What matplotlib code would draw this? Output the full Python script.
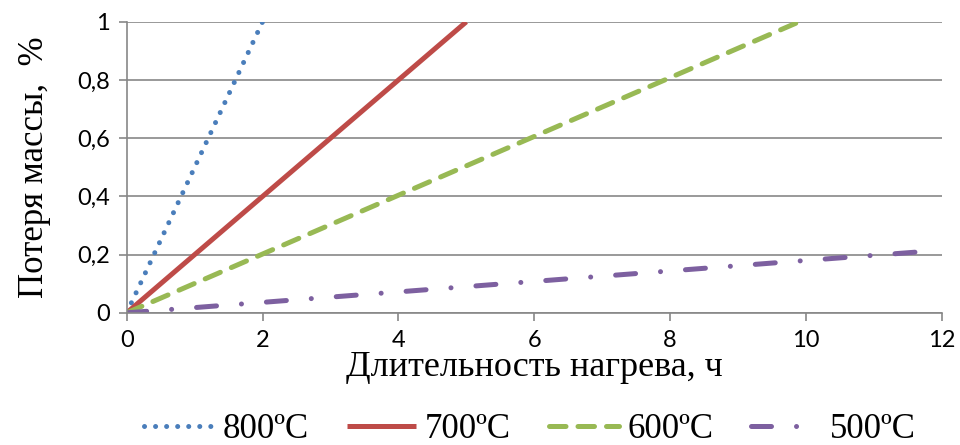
import matplotlib.pyplot as plt
from matplotlib.ticker import FuncFormatter

# Потеря массы (%) от длительности нагрева (ч)
x800 = [0, 2.0]
y800 = [0, 1.0]
x700 = [0, 5.0]
y700 = [0, 1.0]
x600 = [0, 9.9]
y600 = [0, 1.0]
x500 = [0, 2, 4, 6, 8, 10, 11.7]
y500 = [0, 0.036, 0.072, 0.108, 0.144, 0.18, 0.21]

labels = ['800ºC', '700ºC', '600ºC', '500ºC']
colors = ['#4A7EBB', '#BE4B48', '#98B954', '#7D60A0']

serif = ['Liberation Serif', 'DejaVu Serif']

fig = plt.figure(figsize=(9.6, 4.45), dpi=100)
ax = fig.add_axes([0.132, 0.297, 0.849, 0.654])

lw = 3.6
ax.plot(x800, y800, color=colors[0], lw=lw, dashes=(0.01, 2.2),
        dash_capstyle='round', label=labels[0])
ax.plot(x700, y700, color=colors[1], lw=lw, solid_capstyle='butt', label=labels[1])
ax.plot(x600, y600, color=colors[2], lw=lw, dashes=(3.3, 2.4),
        dash_capstyle='round', label=labels[2])
ax.plot(x500, y500, color=colors[3], lw=lw, dashes=(4.0, 5.0, 0.01, 5.0),
        dash_capstyle='round', label=labels[3])

ax.set_xlim(0, 12)
ax.set_ylim(0, 1)
ax.set_xticks(range(0, 13, 2))
ax.set_yticks([0, 0.2, 0.4, 0.6, 0.8, 1.0])
ax.yaxis.set_major_formatter(FuncFormatter(lambda v, p: ('%g' % round(v, 1)).replace('.', ',')))

ax.grid(axis='y', color='#878787', lw=1.2)
ax.set_axisbelow(True)
for s in ['top', 'right']:
    ax.spines[s].set_visible(False)
for s in ['left', 'bottom']:
    ax.spines[s].set_color('#878787')
    ax.spines[s].set_linewidth(1.2)
ax.tick_params(colors='#878787', width=1.2, length=6, labelcolor='black',
               labelsize=17, pad=6)
for t in ax.get_xticklabels() + ax.get_yticklabels():
    t.set_family(['Lato', 'DejaVu Sans'])

ax.set_xlabel('Длительность нагрева, ч', family=serif, fontsize=26, labelpad=0)
ax.set_ylabel('Потеря массы,  %', family=serif, fontsize=25, labelpad=19)

fig.legend(loc='center', bbox_to_anchor=(0.552, 0.035), ncol=4, frameon=False,
           prop={'family': serif, 'size': 25}, handlelength=2.0,
           handletextpad=0.25, columnspacing=1.1)

fig.savefig('out.png', dpi=100)
